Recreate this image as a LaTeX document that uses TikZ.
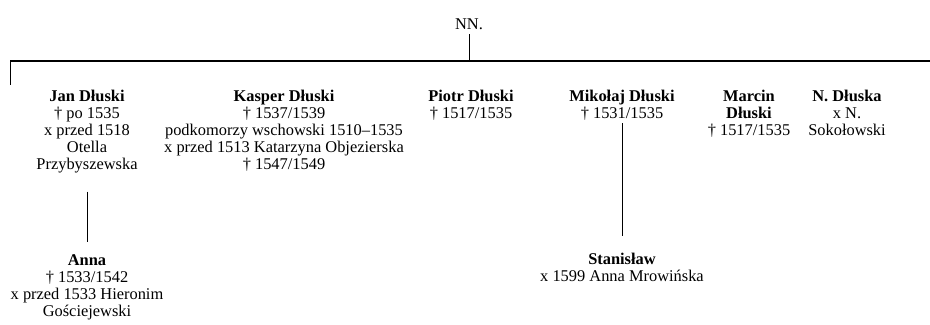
\documentclass[tikz,border=0pt]{standalone}
\usepackage{fontspec}
\setmainfont{Liberation Serif}
\begin{document}
\begin{tikzpicture}[x=0.03cm,y=-0.03cm,
    person/.style={align=center,anchor=north,inner sep=0pt,font=\fontsize{14}{14.5}\selectfont},
    line/.style={line width=0.8pt}]
  \useasboundingbox (0,0) rectangle (930,324);

    \node[font=\fontsize{14}{14.5}\selectfont,inner sep=0pt] (n0) at (469,24) {NN.};
    \coordinate (l0) at (10,61);
    \coordinate (r0) at (930,61);
    \coordinate (t0) at (10,85);

    \draw[line,line width=1pt] (l0) -- (r0);
    \draw[line] (l0) -- (t0);
    \draw[line,shorten <=4pt] (n0) -- (n0 |- l0);

    % children
    \node[person] (a1) at (87,90) {\textbf{Jan Dłuski}\\† po 1535\\x przed 1518\\Otella\\Przybyszewska};
    \node[person] (b1) at (284,90) {\textbf{Kasper Dłuski}\\† 1537/1539\\podkomorzy wschowski 1510–1535\\x przed 1513 Katarzyna Objezierska\\† 1547/1549};
    \node[person] (c1) at (471,90) {\textbf{Piotr Dłuski}\\† 1517/1535};
    \node[person] (d1) at (622,90) {\textbf{Mikołaj Dłuski}\\† 1531/1535};
    \node[person] (e1) at (749,90) {\textbf{Marcin}\\\textbf{Dłuski}\\† 1517/1535};
    \node[person] (f1) at (847,90) {\textbf{N. Dłuska}\\x N.\\Sokołowski};

    % grandchildren
    \node[person] (a2) at (87,254) {\textbf{Anna}\\† 1533/1542\\x przed 1533 Hieronim\\Gościejewski};
    \node[person] (d2) at (622,253) {\textbf{Stanisław}\\x 1599 Anna Mrowińska};

    \draw[line,shorten <=0.55cm,shorten >=0.36cm] (a1.south) -- (a1.south |- a2.north);
    \draw[line,shorten <=0.08cm,shorten >=0.5cm] (d1.south) -- (d1.south |- d2.north);

\end{tikzpicture}
\end{document}
